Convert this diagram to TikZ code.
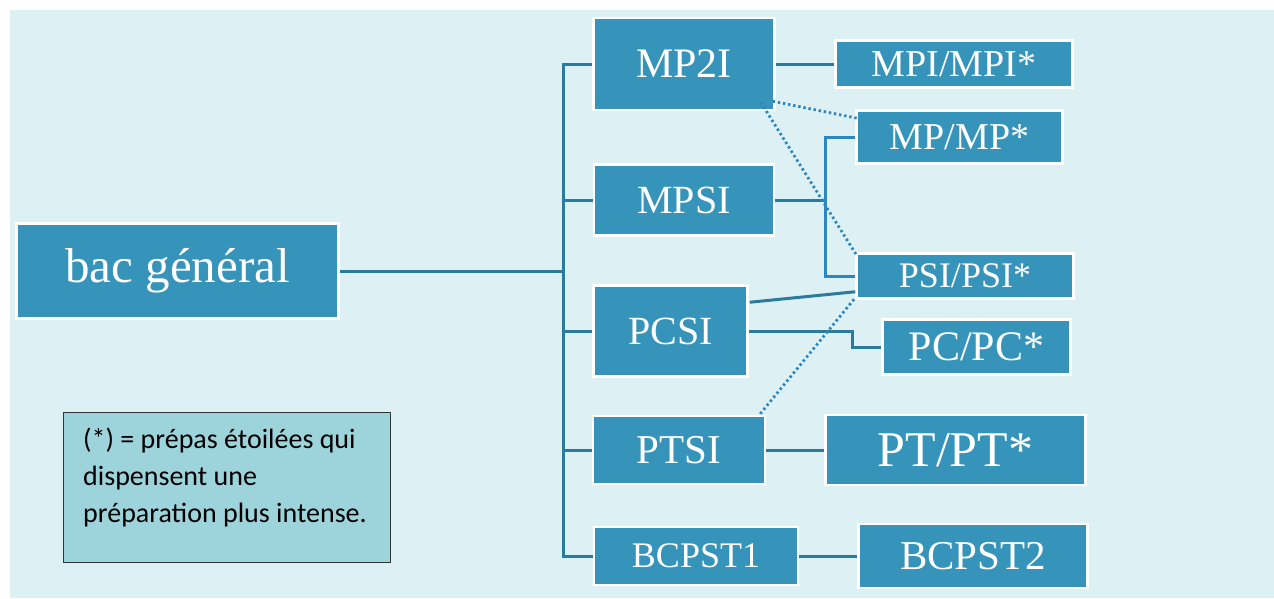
\documentclass[tikz,border=0pt]{standalone}
\usepackage{fontspec}
\setmainfont{Liberation Serif}
\newfontfamily\legendfont{Carlito}
\usetikzlibrary{calc}
\definecolor{bgcol}{HTML}{DDF0F3}
\definecolor{boxblue}{HTML}{3694BB}
\definecolor{lineteal}{HTML}{2B7B9C}
\definecolor{lineblue}{HTML}{2F86BE}
\definecolor{legendfill}{HTML}{9DD3DA}
\tikzset{
  cbox/.style={draw=white, line width=2.5pt, fill=boxblue, text=white, inner sep=0pt, anchor=center},
  solidline/.style={draw=lineteal, line width=3pt},
  bracketline/.style={draw=lineblue, line width=3pt},
  dotline/.style={draw=lineblue, line width=2.8pt, dash pattern=on 2.4pt off 2.8pt},
}
\newcommand{\fs}[1]{\fontsize{#1}{#1}\selectfont}
\begin{document}
\begin{tikzpicture}[x=1pt,y=-1pt]
\useasboundingbox (0,0) rectangle (1274,598);
\fill[bgcol] (10,10) rectangle (1274,598);
% helper coordinates
\coordinate (tr) at (563,0);
\coordinate (br) at (825,0);
\coordinate (pcb) at (852,0);
% trunk connectors (drawn first, boxes cover their ends)
\draw[solidline] (177,271) -- (tr |- 0,271);
\draw[solidline] (684,64) -| (tr |- 0,556) -- (696,556);
\draw[solidline] (tr |- 0,200) -- (684,200);
\draw[solidline] (tr |- 0,331) -- (670,331);
\draw[solidline] (tr |- 0,450) -- (679,450);
% boxes
\node[cbox, minimum width=322pt, minimum height=95pt] (bac) at (177.5,271) {\fs{49}bac général};
\node[cbox, minimum width=181pt, minimum height=92pt] (mp2i) at (684,64) {\fs{42}MP2I};
\node[cbox, minimum width=180pt, minimum height=71pt] (mpsi) at (684,200) {\fs{40}MPSI};
\node[cbox, minimum width=154pt, minimum height=91pt] (pcsi) at (670.5,331) {\fs{40}PCSI};
\node[cbox, minimum width=172pt, minimum height=68pt] (ptsi) at (679,450) {\fs{41}PTSI};
\node[cbox, minimum width=204pt, minimum height=58pt] (bcpst1) at (696,556) {\fs{36}BCPST1};
\node[cbox, minimum width=237pt, minimum height=47pt] (mpi) at (954,64) {\fs{38}MPI/MPI*};
\node[cbox, minimum width=206pt, minimum height=53pt] (mp) at (959.5,137) {\fs{38}MP/MP*};
\node[cbox, minimum width=217pt, minimum height=45pt] (psi) at (965,276) {\fs{36}PSI/PSI*};
\node[cbox, minimum width=188pt, minimum height=55pt] (pc) at (976.5,347) {\fs{42}PC/PC*};
\node[cbox, minimum width=260pt, minimum height=70pt] (pt) at (955.5,450) {\fs{50}PT/PT*};
\node[cbox, minimum width=229pt, minimum height=64pt] (bcpst2) at (973,556) {\fs{41}BCPST2};
% legend
\node[draw=black!80, line width=1pt, fill=legendfill, minimum width=327pt, minimum height=150pt, anchor=north west, inner sep=0pt] (legend) at (63,412) {};
\node[anchor=north west, inner sep=0pt, align=left, text=black, font=\legendfont\fontsize{28}{37}\selectfont] (legendtext) at (83,428) {(*) = prépas étoilées qui\\dispensent une\\préparation plus intense.};
% connectors between boxes
\draw[solidline] (mp2i.east) -- (mpi.west);
\draw[solidline] (mpsi.east) -- (br |- mpsi.east);
\draw[bracketline] (mp.west) -| (br |- psi.west) -- (psi.west);
\draw[solidline] ($(pcsi.north east)+(1,18)$) -- ($(psi.south west)+(0,-8)$);
\draw[solidline] (pcsi.east) -- (pcb |- pcsi.east) -- (pcb |- pc.west) -- (pc.west);
\draw[solidline] (ptsi.east) -- (pt.west);
\draw[solidline] (bcpst1.east) -- (bcpst2.west);
% dotted
\draw[dotline] ($(mp2i.south east)+(-3,-10)$) -- ($(mp.north west)+(2,9)$);
\draw[dotline] ($(mp2i.south east)+(-15,-9)$) -- ($(psi.north west)+(2,4)$);
\draw[dotline] ($(ptsi.north east)+(-6,-1)$) -- ($(psi.south west)+(0,-2)$);
\end{tikzpicture}
\end{document}
